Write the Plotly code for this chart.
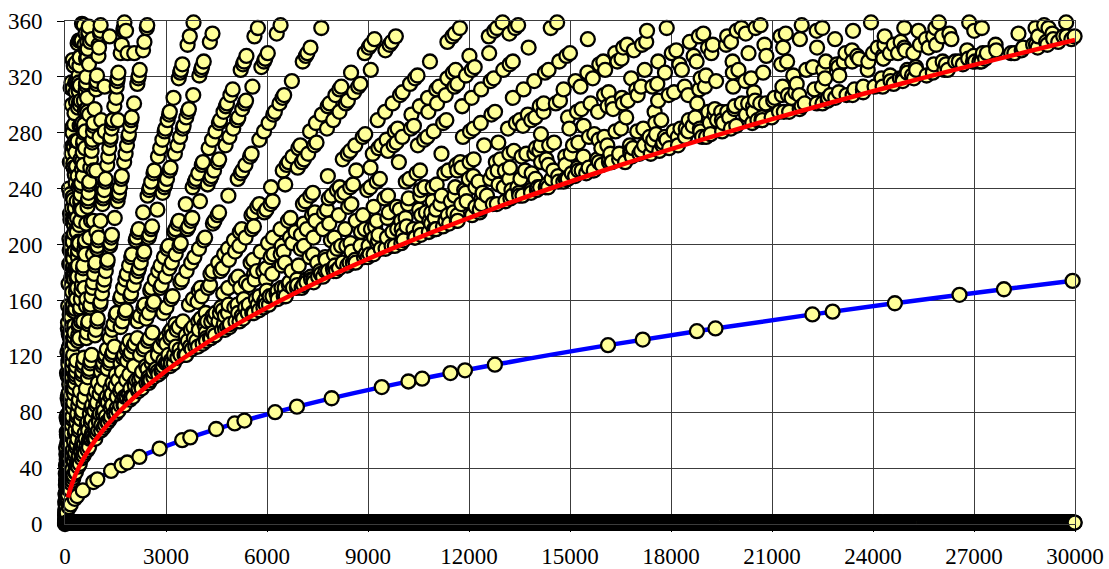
import numpy as np
import plotly.graph_objects as go

# ---- data -------------------------------------------------------------
# x: integers n = 1..30000 ; y: aliquot sum s(n) (sum of proper divisors),
# only the values inside the visible window 0..360 are plotted.
N_MAX = 30000
Y_MAX = 360

# red curve (lower envelope of the semiprime fans)
red_x = [90, 150, 250, 400, 600, 900, 1300, 1800, 2500, 3500, 5000, 7000,
         9500, 12500, 16000, 20000, 25000, 30000]
red_y = [19, 24.5, 31.6, 40, 49, 60, 72.1, 84.9, 100, 118.3, 141.4, 167.3,
         194.9, 223.6, 253, 282.8, 316.2, 346.4]

# blue curve (through the prime-square points)
blue_x = [4, 25, 100, 250, 500, 1000, 2000, 3000, 5000, 7500, 10000, 13000,
          16000, 19000, 22000, 25000, 28000, 30000]
blue_y = [3, 6, 11, 16.8, 23.4, 32.6, 45.7, 55.8, 71.7, 87.6, 101, 115,
          127.5, 138.8, 149.3, 159.1, 168.3, 174.2]

x_ticks = [0, 3000, 6000, 9000, 12000, 15000, 18000, 21000, 24000, 27000, 30000]
y_ticks = [0, 40, 80, 120, 160, 200, 240, 280, 320, 360]

# aliquot sums
s = np.zeros(N_MAX + 1, dtype=np.int64)
for d in range(1, N_MAX // 2 + 1):
    s[2 * d::d] += d
n_all = np.arange(1, N_MAX + 1)
s_all = s[1:]
mask = s_all <= Y_MAX
pts_x = n_all[mask]
pts_y = s_all[mask]

FONT = "Liberation Serif"
FSIZE = 23

fig = go.Figure()
fig.add_trace(go.Scatter(x=blue_x, y=blue_y, mode="lines", line_shape="spline",
                         line=dict(color="#0000FF", width=4.5),
                         hoverinfo="skip", showlegend=False))
fig.add_trace(go.Scatter(x=pts_x, y=pts_y, mode="markers",
                         marker=dict(symbol="circle", size=14, color="#FFFF99",
                                     line=dict(color="#000000", width=2.3)),
                         cliponaxis=False, showlegend=False))
fig.add_trace(go.Scatter(x=red_x, y=red_y, mode="lines", line_shape="spline",
                         line=dict(color="#FF0000", width=4.5),
                         hoverinfo="skip", showlegend=False))

fig.update_layout(
    width=1109, height=569,
    margin=dict(l=65, r=34, t=21, b=45),
    paper_bgcolor="#FFFFFF", plot_bgcolor="#FFFFFF",
    font=dict(family=FONT, size=FSIZE, color="#000000"),
)
fig.update_xaxes(range=[0, N_MAX], tickvals=x_ticks, automargin=False,
                 ticktext=[str(v) for v in x_ticks], ticklabelstandoff=4,
                 showgrid=True, gridcolor="#3c3c3c", gridwidth=1,
                 zeroline=False, showline=True, linecolor="#3c3c3c", linewidth=1,
                 mirror=True, ticks="outside", ticklen=7, tickcolor="#000000",
                 tickfont_family=FONT, tickfont_size=FSIZE, tickfont_color="#000000")
fig.update_yaxes(range=[0, Y_MAX], tickvals=y_ticks, automargin=False,
                 ticktext=[str(v) for v in y_ticks], ticklabelstandoff=10,
                 showgrid=True, gridcolor="#3c3c3c", gridwidth=1,
                 zeroline=False, showline=True, linecolor="#3c3c3c", linewidth=1,
                 mirror=True, ticks="outside", ticklen=7, tickcolor="#000000",
                 tickfont_family=FONT, tickfont_size=FSIZE, tickfont_color="#000000")

fig.write_html("out.html")
